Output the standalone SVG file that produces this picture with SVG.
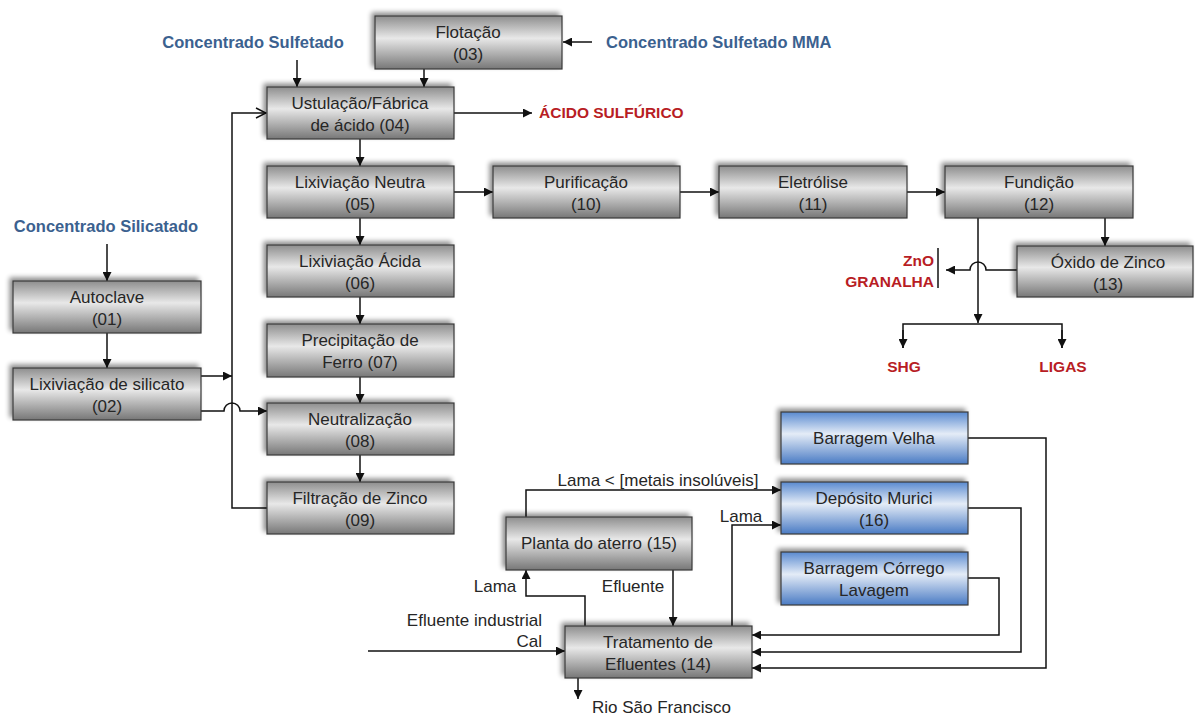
<svg xmlns="http://www.w3.org/2000/svg" width="1195" height="717" viewBox="0 0 1195 717">
<defs>
<linearGradient id="gGray" x1="0" y1="0" x2="0" y2="1">
<stop offset="0" stop-color="#8e8e8e"/>
<stop offset="0.42" stop-color="#e8e8e8"/>
<stop offset="1" stop-color="#777777"/>
</linearGradient>
<linearGradient id="gBlue" x1="0" y1="0" x2="0" y2="1">
<stop offset="0" stop-color="#5a8ad0"/>
<stop offset="0.42" stop-color="#e4ecf7"/>
<stop offset="1" stop-color="#4a7bc4"/>
</linearGradient>
<filter id="sh" x="-10%" y="-20%" width="120%" height="140%">
<feGaussianBlur in="SourceAlpha" stdDeviation="2.5"/>
<feOffset dx="-3" dy="-3" result="b"/>
<feComponentTransfer><feFuncA type="linear" slope="0.45"/></feComponentTransfer>
<feMerge><feMergeNode/><feMergeNode in="SourceGraphic"/></feMerge>
</filter>
<marker id="ar" viewBox="0 0 10 10" refX="10" refY="5" markerWidth="10" markerHeight="9" markerUnits="userSpaceOnUse" orient="auto">
<path d="M0,0 L10,5 L0,10 z" fill="#111"/>
</marker>
<marker id="open" viewBox="0 0 12 12" refX="11" refY="6" markerWidth="12" markerHeight="12" markerUnits="userSpaceOnUse" orient="auto">
<path d="M1,1 L11,6 L1,11" fill="none" stroke="#111" stroke-width="1.5"/>
</marker>
<style>
.bx{fill:url(#gGray);stroke:#3a3a3a;stroke-width:1.2;filter:url(#sh)}
.bb{fill:url(#gBlue);stroke:#3a3a3a;stroke-width:1.2;filter:url(#sh)}
.t{font-family:"Liberation Sans",Arial,sans-serif;font-size:17px;fill:#262626;text-anchor:middle}
.l{font-family:"Liberation Sans",Arial,sans-serif;font-size:17px;fill:#262626}
.blue{font-family:"Liberation Sans",Arial,sans-serif;font-size:16.5px;font-weight:bold;fill:#3b618f}
.red{font-family:"Liberation Sans",Arial,sans-serif;font-size:15.5px;font-weight:bold;fill:#b81d24}
.c{fill:none;stroke:#111;stroke-width:1.5}
</style>
</defs>

<g id="labels">
<text class="blue" x="253" y="48" text-anchor="middle">Concentrado Sulfetado</text>
<text class="blue" x="606" y="48">Concentrado Sulfetado MMA</text>
<text class="blue" x="106" y="232" text-anchor="middle">Concentrado Silicatado</text>
<text class="red" x="539" y="118">ÁCIDO SULFÚRICO</text>
<text class="red" x="934" y="266" text-anchor="end">ZnO</text>
<text class="red" x="934" y="287" text-anchor="end">GRANALHA</text>
<text class="red" x="904" y="372" text-anchor="middle">SHG</text>
<text class="red" x="1063" y="372" text-anchor="middle">LIGAS</text>
<text class="l" x="658" y="486" text-anchor="middle">Lama &lt; [metais insolúveis]</text>
<text class="l" x="741" y="522" text-anchor="middle">Lama</text>
<text class="l" x="495" y="592" text-anchor="middle">Lama</text>
<text class="l" x="633" y="592" text-anchor="middle">Efluente</text>
<text class="l" x="542" y="626" text-anchor="end">Efluente industrial</text>
<text class="l" x="542" y="647" text-anchor="end">Cal</text>
<text class="l" x="592" y="713">Rio São Francisco</text>
</g>

<g id="connectors">
<path class="c" d="M297,60 V87" marker-end="url(#ar)"/>
<path class="c" d="M424,69 V87" marker-end="url(#ar)"/>
<path class="c" d="M592,42 H563" marker-end="url(#ar)"/>
<path class="c" d="M454,113 H532" marker-end="url(#ar)"/>
<path class="c" d="M360,139 V166" marker-end="url(#ar)"/>
<path class="c" d="M360,218 V245" marker-end="url(#ar)"/>
<path class="c" d="M360,297 V324" marker-end="url(#ar)"/>
<path class="c" d="M360,377 V403" marker-end="url(#ar)"/>
<path class="c" d="M360,455 V482" marker-end="url(#ar)"/>
<path class="c" d="M267,508 H232 V113 H266" marker-end="url(#open)"/>
<path class="c" d="M107,244 V281" marker-end="url(#ar)"/>
<path class="c" d="M107,333 V368" marker-end="url(#ar)"/>
<path class="c" d="M201,376 H232" marker-end="url(#ar)"/>
<path class="c" d="M201,411 H224 A8,8 0 0 1 240,411 H267" marker-end="url(#ar)"/>
<path class="c" d="M454,192 H493" marker-end="url(#ar)"/>
<path class="c" d="M680,192 H719" marker-end="url(#ar)"/>
<path class="c" d="M907,192 H945" marker-end="url(#ar)"/>
<path class="c" d="M1105,218 V246" marker-end="url(#ar)"/>
<path class="c" d="M978,218 V323" marker-end="url(#ar)"/>
<path class="c" d="M903,348 V324 H1062 V348" />
<path class="c" d="M903,330 V348" marker-end="url(#ar)"/>
<path class="c" d="M1062,330 V348" marker-end="url(#ar)"/>
<path class="c" d="M1017,270 H986 A8,8 0 0 0 970,270 H946" marker-end="url(#ar)"/>
<path class="c" d="M938,248 V288"/>
<path class="c" d="M526,517 V490 H781" marker-end="url(#ar)"/>
<path class="c" d="M732,626 V525 H781" marker-end="url(#ar)"/>
<path class="c" d="M585,626 V596 H526 V570" marker-end="url(#ar)"/>
<path class="c" d="M673,570 V626" marker-end="url(#ar)"/>
<path class="c" d="M368,651 H565" marker-end="url(#ar)"/>
<path class="c" d="M578,678 V699" marker-end="url(#ar)"/>
<path class="c" d="M968,578 H999 V635 H752" marker-end="url(#ar)"/>
<path class="c" d="M968,508 H1021 V652 H752" marker-end="url(#ar)"/>
<path class="c" d="M968,438 H1046 V668 H752" marker-end="url(#ar)"/>
</g>

<g id="n01"><rect class="bx" x="13" y="281" width="188" height="52"/><text class="t" x="107" y="303">Autoclave</text><text class="t" x="107" y="325">(01)</text></g>
<g id="n02"><rect class="bx" x="13" y="368" width="188" height="52"/><text class="t" x="107" y="390">Lixiviação de silicato</text><text class="t" x="107" y="412">(02)</text></g>
<g id="n03"><rect class="bx" x="375" y="16" width="187" height="53"/><text class="t" x="468" y="38">Flotação</text><text class="t" x="468" y="60">(03)</text></g>
<g id="n04"><rect class="bx" x="267" y="87" width="187" height="52"/><text class="t" x="360" y="109">Ustulação/Fábrica</text><text class="t" x="360" y="131">de ácido (04)</text></g>
<g id="n05"><rect class="bx" x="267" y="166" width="187" height="52"/><text class="t" x="360" y="188">Lixiviação Neutra</text><text class="t" x="360" y="210">(05)</text></g>
<g id="n06"><rect class="bx" x="267" y="245" width="187" height="52"/><text class="t" x="360" y="267">Lixiviação Ácida</text><text class="t" x="360" y="289">(06)</text></g>
<g id="n07"><rect class="bx" x="267" y="324" width="187" height="53"/><text class="t" x="360" y="346">Precipitação de</text><text class="t" x="360" y="368">Ferro (07)</text></g>
<g id="n08"><rect class="bx" x="267" y="403" width="187" height="52"/><text class="t" x="360" y="425">Neutralização</text><text class="t" x="360" y="447">(08)</text></g>
<g id="n09"><rect class="bx" x="267" y="482" width="187" height="52"/><text class="t" x="360" y="504">Filtração de Zinco</text><text class="t" x="360" y="526">(09)</text></g>
<g id="n10"><rect class="bx" x="493" y="166" width="187" height="52"/><text class="t" x="586" y="188">Purificação</text><text class="t" x="586" y="210">(10)</text></g>
<g id="n11"><rect class="bx" x="719" y="166" width="188" height="52"/><text class="t" x="813" y="188">Eletrólise</text><text class="t" x="813" y="210">(11)</text></g>
<g id="n12"><rect class="bx" x="945" y="166" width="188" height="52"/><text class="t" x="1039" y="188">Fundição</text><text class="t" x="1039" y="210">(12)</text></g>
<g id="n13"><rect class="bx" x="1017" y="246" width="176" height="51"/><text class="t" x="1108" y="268">Óxido de Zinco</text><text class="t" x="1108" y="290">(13)</text></g>
<g id="n14"><rect class="bx" x="565" y="626" width="187" height="52"/><text class="t" x="658" y="648">Tratamento de</text><text class="t" x="658" y="670">Efluentes (14)</text></g>
<g id="n15"><rect class="bx" x="506" y="517" width="186" height="53"/><text class="t" x="599" y="549">Planta do aterro (15)</text></g>
<g id="n16"><rect class="bb" x="781" y="482" width="187" height="52"/><text class="t" x="874" y="504">Depósito Murici</text><text class="t" x="874" y="526">(16)</text></g>
<g id="nBV"><rect class="bb" x="781" y="412" width="187" height="52"/><text class="t" x="874" y="444">Barragem Velha</text></g>
<g id="nBC"><rect class="bb" x="781" y="552" width="187" height="53"/><text class="t" x="874" y="574">Barragem Córrego</text><text class="t" x="874" y="596">Lavagem</text></g>
</svg>
